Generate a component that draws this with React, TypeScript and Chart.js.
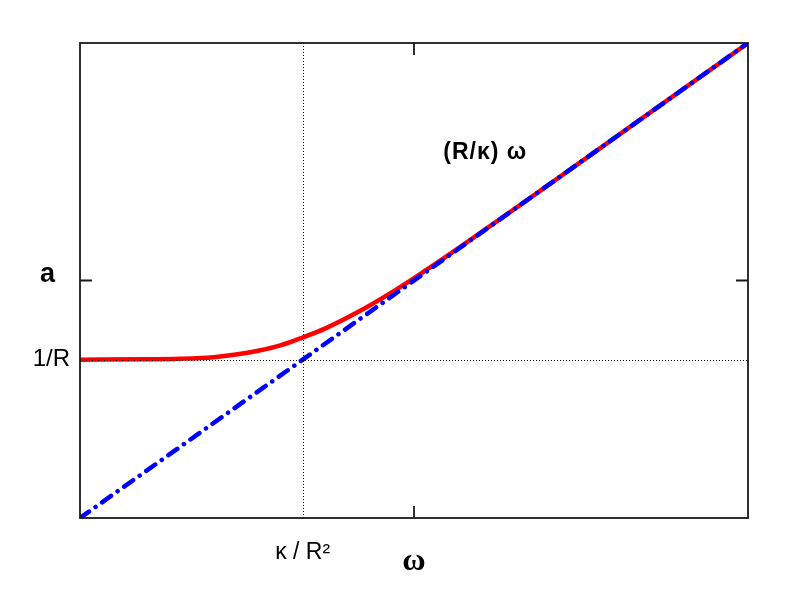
import React, { useEffect, useRef } from "react";
import { Chart, registerables } from "chart.js";

Chart.register(...registerables);

// ---- data ----
const omegaValues = [0, 0.3, 0.45, 0.6, 0.7, 0.8, 0.9, 1.0, 1.1, 1.25, 1.4, 1.55, 1.7, 2.0, 2.5, 3.0];
const amplitudeValues = [1.0, 1.002, 1.006, 1.016, 1.032, 1.056, 1.09, 1.14, 1.196, 1.302, 1.425, 1.562, 1.705, 2.0, 2.5, 3.0];
const asymptoteOmega = [0, 3];
const asymptoteValues = [0, 3];

const axisMin = 0;
const axisMax = 3;
const xTickValues = [1, 1.5];
const xTickLabels = ["κ / R²", "ω"];
const yTickValues = [1, 1.5];
const yTickLabels = ["1/R", "a"];
const axisMarkValues = [1.5];
const guideXValues = [1];
const guideYValues = [1];
const annotationText = "(R/κ) ω";
const annotationOmega = 1.82;
const annotationValue = 2.31;

const framePlugin = {
  id: "framePlugin",
  afterDatasetsDraw(chart: any) {
    const { ctx, chartArea: a, scales } = chart;
    const x = scales.x;
    const y = scales.y;
    ctx.save();
    ctx.strokeStyle = "#000";
    ctx.lineWidth = 1;
    ctx.setLineDash([1, 2]);
    guideXValues.forEach((v) => {
      const px = Math.round(x.getPixelForValue(v)) + 0.5;
      ctx.beginPath();
      ctx.moveTo(px, a.top);
      ctx.lineTo(px, a.bottom);
      ctx.stroke();
    });
    guideYValues.forEach((v) => {
      const py = Math.round(y.getPixelForValue(v)) + 0.5;
      ctx.beginPath();
      ctx.moveTo(a.left, py);
      ctx.lineTo(a.right, py);
      ctx.stroke();
    });
    ctx.restore();
  },
  afterDraw(chart: any) {
    const { ctx, chartArea: a, scales } = chart;
    const x = scales.x;
    const y = scales.y;
    ctx.save();
    ctx.strokeStyle = "#1a1a1a";
    ctx.lineWidth = 1.8;
    ctx.setLineDash([]);
    ctx.strokeRect(a.left, a.top, a.right - a.left, a.bottom - a.top);
    const len = 12;
    axisMarkValues.forEach((v) => {
      const px = x.getPixelForValue(v);
      ctx.beginPath();
      ctx.moveTo(px, a.bottom);
      ctx.lineTo(px, a.bottom - len);
      ctx.moveTo(px, a.top);
      ctx.lineTo(px, a.top + len);
      ctx.stroke();
      const py = y.getPixelForValue(v);
      ctx.beginPath();
      ctx.moveTo(a.left, py);
      ctx.lineTo(a.left + len, py);
      ctx.moveTo(a.right, py);
      ctx.lineTo(a.right - len, py);
      ctx.stroke();
    });
    ctx.fillStyle = "#000";
    ctx.font = "bold 23px 'Liberation Sans'";
    try {
      (ctx as any).letterSpacing = "1px";
    } catch (e) {}
    ctx.textAlign = "center";
    ctx.textBaseline = "middle";
    ctx.fillText(annotationText, x.getPixelForValue(annotationOmega), y.getPixelForValue(annotationValue));
    ctx.restore();
  },
};

export default function App() {
  const canvasRef = useRef<HTMLCanvasElement | null>(null);

  useEffect(() => {
    if (!canvasRef.current) return;
    Chart.defaults.font.family = "'Liberation Sans'";
    const chart = new Chart(canvasRef.current, {
      type: "scatter",
      data: {
        datasets: [
          {
            label: "a",
            data: omegaValues.map((v, i) => ({ x: v, y: amplitudeValues[i] })),
            showLine: true,
            borderColor: "#ff0000",
            backgroundColor: "#ff0000",
            borderWidth: 4.5,
            pointRadius: 0,
            tension: 0.4,
            cubicInterpolationMode: "monotone",
            order: 2,
          },
          {
            label: "(R/κ) ω",
            data: asymptoteOmega.map((v, i) => ({ x: v, y: asymptoteValues[i] })),
            showLine: true,
            borderColor: "#0000ff",
            backgroundColor: "#0000ff",
            borderWidth: 4.5,
            borderDash: [11, 8, 0.1, 8],
            borderCapStyle: "round",
            pointRadius: 0,
            order: 1,
          },
        ],
      } as any,
      options: {
        animation: false,
        responsive: true,
        maintainAspectRatio: false,
        layout: { padding: { top: 35, right: 53, left: 0, bottom: 0 } },
        plugins: { legend: { display: false }, tooltip: { enabled: false } },
        scales: {
          x: {
            type: "linear",
            min: axisMin,
            max: axisMax,
            grid: { display: false, drawTicks: false },
            border: { display: false },
            afterBuildTicks: (s: any) => {
              s.ticks = xTickValues.map((v) => ({ value: v }));
            },
            afterFit: (s: any) => {
              s.height = 83;
            },
            ticks: {
              autoSkip: false,
              maxRotation: 0,
              padding: 21,
              color: "#000",
              callback: (_v: any, i: number) => xTickLabels[i],
              font: (ctx: any) =>
                ctx.index === 1
                  ? { family: "'Liberation Serif'", size: 32, weight: "bold", lineHeight: 1.4 }
                  : { family: "'Liberation Sans'", size: 23, lineHeight: 1.2 },
            },
          },
          y: {
            type: "linear",
            min: axisMin,
            max: axisMax,
            grid: { display: false, drawTicks: false },
            border: { display: false },
            afterBuildTicks: (s: any) => {
              s.ticks = yTickValues.map((v) => ({ value: v }));
            },
            afterFit: (s: any) => {
              s.width = 72;
            },
            ticks: {
              autoSkip: false,
              padding: 10,
              color: "#000",
              callback: (_v: any, i: number) => (i === 1 ? [yTickLabels[i] + "  ", ""] : yTickLabels[i]),
              font: (ctx: any) =>
                ctx.index === 1
                  ? { family: "'Liberation Sans'", size: 27, weight: "bold", lineHeight: 0.45 }
                  : { family: "'Liberation Sans'", size: 24, lineHeight: 1.2 },
            },
          },
        },
      } as any,
      plugins: [framePlugin],
    });
    return () => chart.destroy();
  }, []);

  return (
    <div style={{ position: "relative", width: 793, height: 593 }}>
      <canvas ref={canvasRef} />
    </div>
  );
}
